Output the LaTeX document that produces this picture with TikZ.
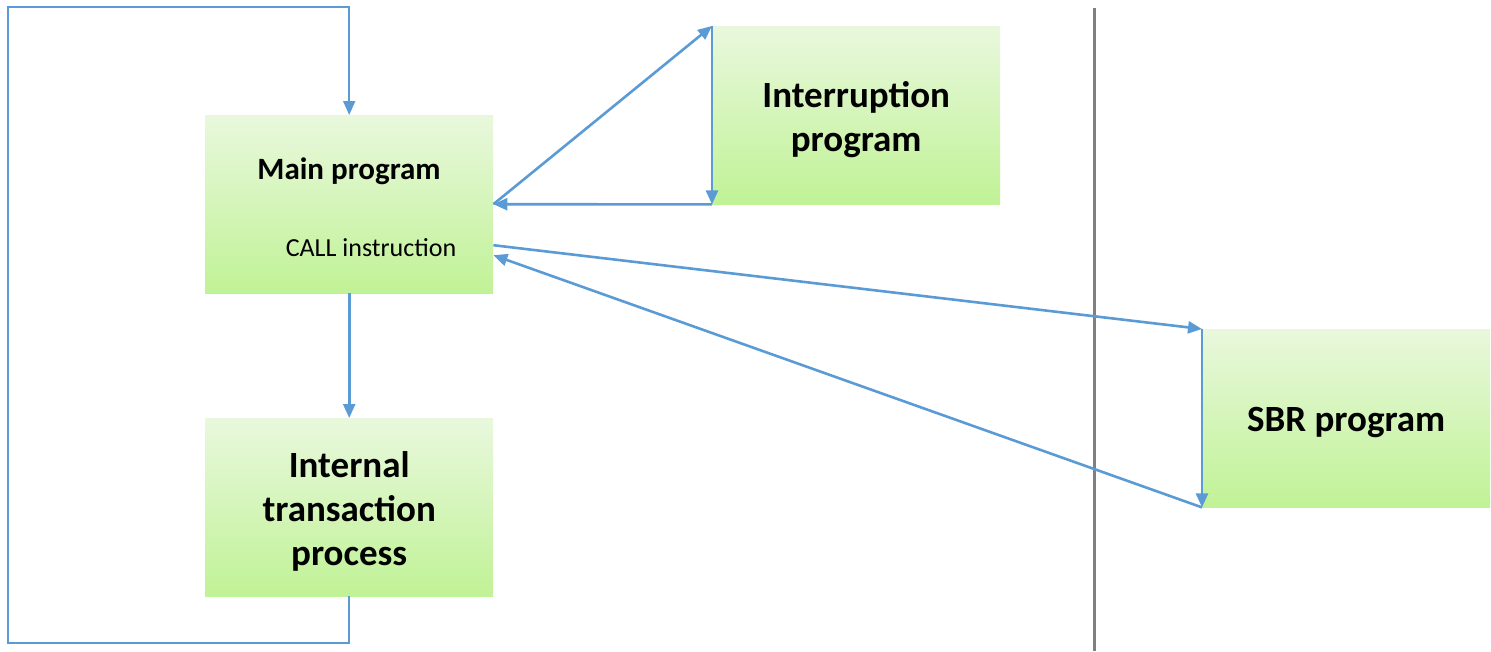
\documentclass[tikz,border=0pt]{standalone}
\usepackage{fontspec}
\setmainfont{Carlito}
\usetikzlibrary{arrows.meta,calc}
\definecolor{connc}{RGB}{91,155,213}
\definecolor{gtop}{RGB}{233,248,221}
\definecolor{gbot}{RGB}{192,242,150}
\definecolor{sepc}{RGB}{128,128,128}
\begin{document}
\begin{tikzpicture}[x=1pt,y=-1pt,
  box/.style={top color=gtop,bottom color=gbot,draw=none,minimum width=288pt,minimum height=178pt,anchor=north west,inner sep=0pt},
  boxtext/.style={align=center,inner sep=0pt,font=\bfseries\fontsize{37}{44}\selectfont},
  conn/.style={draw=connc,line width=2.6pt,-{Triangle[length=14pt,width=12pt]}},
  loopline/.style={draw=connc,line width=2pt,-{Triangle[length=14pt,width=12pt]}},
  sepline/.style={draw=sepc,line width=3pt},
  titletext/.style={font=\bfseries\fontsize{31}{37}\selectfont,inner sep=0pt},
  smalltext/.style={font=\fontsize{26}{31}\selectfont,inner sep=0pt}]
\path[use as bounding box] (0,0) rectangle (1491,651);
\node[box] (main) at (205,115) {};
\node[box] (intr) at (712,26) {};
\node[box] (internal) at (205,418) {};
\node[box] (sbr) at (1202,329) {};
\node[boxtext] (intrlbl) at ($(intr.center)+(0,4)$) {Interruption\\program};
\node[boxtext] (internallbl) at ($(internal.center)+(0,4)$) {Internal\\transaction\\process};
\node[boxtext] (sbrlbl) at ($(sbr.center)+(0,4)$) {SBR program};
\node[titletext] (mainlbl) at (349,171) {Main program};
\node[smalltext] (calllbl) at (371,248) {CALL instruction};
\coordinate (septop) at (1094,8);
\coordinate (sepbot) at (1094,651);
\draw[sepline] (septop) -- (sepbot);
\coordinate (lb) at (8,643);
\coordinate (lt) at (8,7);
\draw[loopline] (internal.south) |- (lb) -- (lt) -| (main.north);
\draw[conn] (main.south) -- (internal.north);
\draw[conn] (main.east) -- (intr.north west);
\draw[conn] (intr.north west) -- (intr.south west);
\draw[conn] (intr.south west) -- (main.east);
\coordinate (callout) at ($(main.east)+(0,41)$);
\coordinate (callin) at ($(main.east)+(0,51)$);
\draw[conn] (callout) -- (sbr.north west);
\draw[conn] (sbr.north west) -- (sbr.south west);
\draw[conn] (sbr.south west) -- (callin);
\end{tikzpicture}
\end{document}
